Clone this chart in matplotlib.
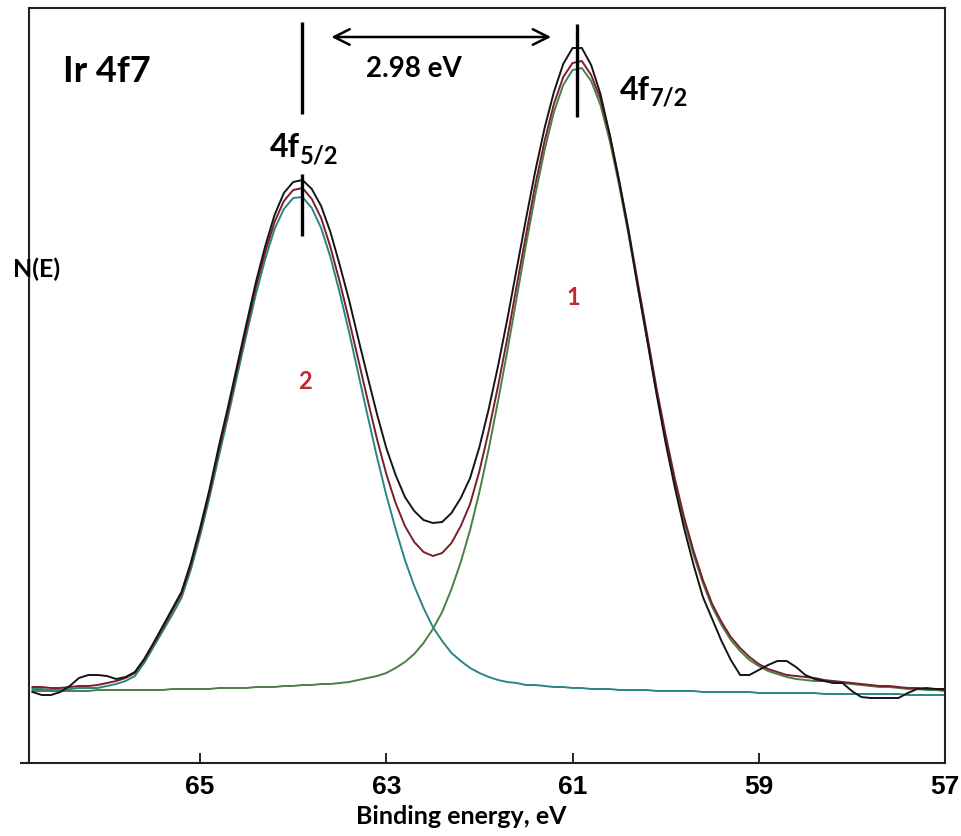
import numpy as np
import matplotlib
matplotlib.use("Agg")
import matplotlib.pyplot as plt
from matplotlib.lines import Line2D

plt.rcParams['font.family'] = ['Lato', 'DejaVu Sans']

# ---- data (intensity in arbitrary units, binding energy in eV) ----
binding_energy = np.round(66.8 - 0.1 * np.arange(99), 1)

raw_counts = [71, 68, 68, 71, 77, 85, 88, 88, 87, 84, 86, 91, 104, 120, 137, 154, 171, 200, 235, 273, 316,
              356, 398, 440, 481, 517, 548, 570, 581, 583, 574, 557, 531, 498, 463, 424, 386, 349, 315, 288,
              266, 252, 243, 240, 241, 250, 265, 285, 316, 354, 397, 444, 494, 544, 592, 635, 671, 699, 715, 715,
              698, 669, 628, 582, 532, 477, 424, 370, 320, 275, 234, 198, 166, 144, 122, 103, 88, 88, 93, 98,
              102, 102, 96, 88, 84, 82, 80, 80, 72, 66, 65, 65, 65, 65, 70, 74, 75, 74, 74]

envelope = [76, 76, 75, 75, 76, 77, 77, 78, 80, 82, 85, 90, 103, 119, 135, 152, 169, 198, 232, 270,
            312, 352, 394, 435, 476, 511, 541, 562, 573, 575, 564, 545, 516, 481, 443, 403, 363, 324, 289, 260,
            237, 221, 211, 207, 210, 220, 237, 259, 292, 332, 377, 425, 477, 528, 578, 622, 659, 686, 700, 702,
            688, 664, 628, 583, 534, 481, 429, 376, 328, 284, 245, 212, 183, 159, 141, 126, 115, 106, 99, 94,
            91, 88, 87, 86, 85, 83, 82, 81, 80, 79, 78, 77, 77, 76, 75, 75, 74, 74, 73]

component_1 = [72, 72, 72, 72, 72, 72, 72, 73, 73, 73, 73, 73, 73, 73, 73, 74, 74, 74, 74, 74,
               75, 75, 75, 75, 76, 76, 76, 77, 77, 78, 78, 79, 79, 80, 81, 83, 85, 87, 90, 95,
               101, 109, 120, 134, 151, 174, 201, 233, 271, 314, 362, 412, 465, 518, 568, 613, 651, 678, 693, 695,
               682, 658, 622, 578, 529, 476, 424, 372, 324, 280, 241, 208, 180, 156, 138, 123, 112, 103, 97, 92,
               89, 86, 84, 83, 82, 82, 81, 80, 79, 78, 77, 76, 76, 75, 74, 74, 73, 73, 72]

component_2 = [74, 74, 73, 73, 74, 75, 75, 75, 77, 79, 82, 87, 100, 116, 132, 148, 165, 193, 227, 265,
               306, 346, 388, 429, 469, 504, 534, 554, 565, 566, 555, 535, 506, 470, 431, 389, 347, 306, 268, 234,
               203, 177, 155, 136, 122, 110, 102, 95, 90, 86, 83, 81, 80, 78, 78, 77, 76, 76, 75, 75,
               74, 74, 74, 73, 73, 73, 73, 72, 72, 72, 72, 72, 71, 71, 71, 71, 71, 71, 70, 70,
               70, 70, 70, 70, 70, 69, 69, 69, 69, 69, 69, 69, 69, 69, 68, 68, 68, 68, 68]

peak_positions = [63.90, 60.95]          # 4f5/2, 4f7/2
splitting_label = "2.98 eV"
tick_values = [65, 63, 61, 59, 57]

# ---- figure ----
W, H = 961, 837
fig = plt.figure(figsize=(W / 100, H / 100), dpi=100)
ax = fig.add_axes([29 / W, 1 - 764 / H, 916 / W, 755 / H])

ax.plot(binding_energy, component_1, color="#4a7f45", lw=1.4)
ax.plot(binding_energy, component_2, color="#2a8585", lw=1.4)
ax.plot(binding_energy, envelope, color="#7a1f2a", lw=1.4)
ax.plot(binding_energy, raw_counts, color="#151515", lw=1.4)

ax.set_xlim(66.837, 57.0)
ax.set_ylim(0, 755)
ax.set_xticks(tick_values)
ax.set_xticklabels([str(v) for v in tick_values], family=['Liberation Sans'],
                   fontweight='bold', fontsize=19)
ax.tick_params(axis='x', direction='in', length=7, width=1.2, pad=8)
ax.set_yticks([])
for s in ax.spines.values():
    s.set_linewidth(1.5)
    s.set_color("#222222")

# small extension of the x axis line to the left of the y axis
fig.add_artist(Line2D([21 / W, 29 / W], [1 - 764 / H] * 2, color="#222222", lw=1.5))

# peak markers
ax.plot([peak_positions[0]] * 2, [741, 649], color='black', lw=2.4, solid_capstyle='butt')
ax.plot([peak_positions[0]] * 2, [589, 527], color='black', lw=2.4, solid_capstyle='butt')
ax.plot([peak_positions[1]] * 2, [739, 646], color='black', lw=2.4, solid_capstyle='butt')

# splitting arrow
ax.annotate('', xy=(61.20, 726), xytext=(63.62, 726),
            arrowprops=dict(arrowstyle='<->', lw=1.8, color='black', mutation_scale=28))

def fp(x, y):
    return x / W, 1 - y / H

fig.text(*fp(63, 82), "Ir 4f7", fontsize=26, fontweight='bold', va='baseline', ha='left')
fig.text(*fp(366, 77), splitting_label, fontsize=20, fontweight='bold', va='baseline', ha='left')
fig.text(*fp(270, 157), "4f", fontsize=23, fontweight='bold', va='baseline', ha='left')
fig.text(*fp(300, 164), "5/2", fontsize=17, fontweight='bold', va='baseline', ha='left')
fig.text(*fp(620, 100), "4f", fontsize=23, fontweight='bold', va='baseline', ha='left')
fig.text(*fp(650, 106), "7/2", fontsize=17, fontweight='bold', va='baseline', ha='left')
fig.text(*fp(13, 277), "N(E)", fontsize=18, fontweight='bold', va='baseline', ha='left')
fig.text(*fp(573, 298), "1", fontsize=17, fontweight='bold', color='#c0282d', va='center', ha='center')
fig.text(*fp(305, 382), "2", fontsize=17, fontweight='bold', color='#c0282d', va='center', ha='center')
fig.text(*fp(461, 824), "Binding energy, eV", fontsize=18, fontweight='bold', va='baseline', ha='center')

fig.savefig("out.png", dpi=100)
